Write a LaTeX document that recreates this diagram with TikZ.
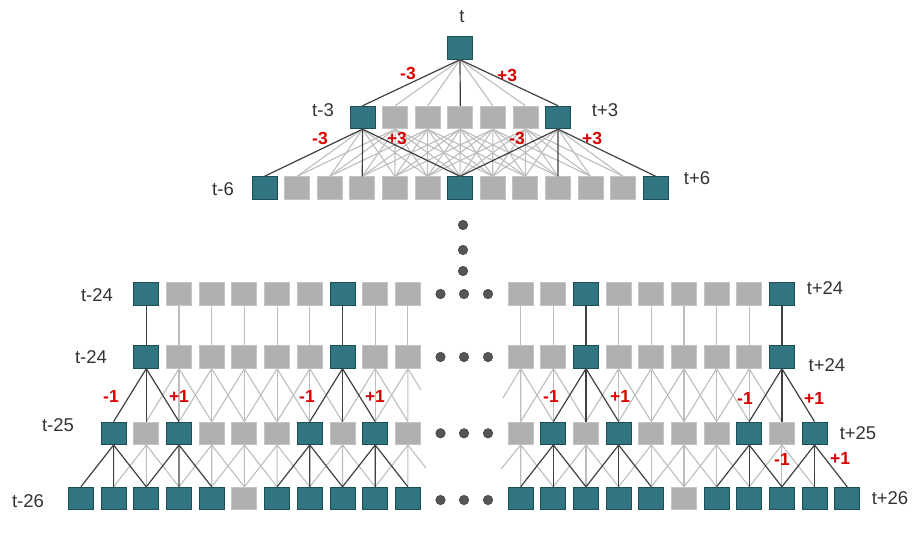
\documentclass[tikz,border=0pt]{standalone}
\usepackage{fontspec}
\setmainfont{Liberation Sans}
\usetikzlibrary{calc}
\definecolor{cellteal}{HTML}{307580}
\definecolor{celledge}{HTML}{1C4E56}
\definecolor{cellgray}{HTML}{B0B0B0}
\definecolor{linkdark}{HTML}{404040}
\definecolor{linkgray}{HTML}{BDBDBD}
\definecolor{offred}{HTML}{D90000}
\definecolor{labelgray}{HTML}{333333}
\definecolor{dotgray}{HTML}{555555}

\begin{document}
\begin{tikzpicture}[
  x=1pt, y=-1pt,
  tealbox/.style={rectangle, draw=celledge, fill=cellteal, line width=0.9pt, minimum width=25pt, minimum height=22.5pt, inner sep=0pt},
  graybox/.style={rectangle, draw=cellgray!75!white, fill=cellgray, line width=0.9pt, minimum width=25pt, minimum height=22.5pt, inner sep=0pt},
  link/.style={draw=linkgray, line width=1.1pt},
  strong/.style={draw=linkdark, line width=1.2pt},
  steplabel/.style={font=\fontsize{18.5}{21}\selectfont, text=labelgray},
  offset/.style={font=\fontsize{17.5}{20}\selectfont\bfseries, text=offred},
  dot/.style={circle, fill=dotgray, draw=dotgray!70!black, line width=0.5pt, minimum size=9.5pt, inner sep=0pt},
]
\useasboundingbox (0,0) rectangle (918,546);

% Top tree
\node[tealbox] (t) at (460,48) {};
\foreach \k in {0,6} \node[tealbox] (m\k) at (362.5+32.6*\k,117.5) {};
\foreach \k in {1,2,3,4,5} \node[graybox] (m\k) at (362.5+32.6*\k,117.5) {};
\foreach \j in {0,6,12} \node[tealbox] (b\j) at (264.5+32.6*\j,188) {};
\foreach \j in {1,2,3,4,5,7,8,9,10,11} \node[graybox] (b\j) at (264.5+32.6*\j,188) {};

\foreach \k in {1,2,4,5} \draw[link] (t.south) -- (m\k.north);
\foreach \k in {0,3,6} \draw[strong] (t.south) -- (m\k.north);

\foreach \k in {1,...,5} \foreach \d in {0,...,6} {
  \pgfmathtruncatemacro\j{\k+\d}
  \draw[link] (m\k.south) -- (b\j.north);
}
\foreach \j in {1,2,4,5} \draw[link] (m0.south) -- (b\j.north);
\foreach \j in {7,8,10,11} \draw[link] (m6.south) -- (b\j.north);
\foreach \j in {0,3,6} \draw[strong] (m0.south) -- (b\j.north);
\foreach \j in {6,9,12} \draw[strong] (m6.south) -- (b\j.north);

\node[steplabel] (lt) at (462,17) {t};
\node[steplabel] (ltm3) at (323,110) {t-3};
\node[steplabel] (ltp3) at (605,110) {t+3};
\node[steplabel] (ltm6) at (223,189) {t-6};
\node[steplabel] (ltp6) at (697,178) {t+6};
\node[offset] (o1) at (408,73) {-3};
\node[offset] (o2) at (507,75) {+3};
\node[offset] (o3) at (320,138) {-3};
\node[offset] (o4) at (397,138) {+3};
\node[offset] (o5) at (517,138) {-3};
\node[offset] (o6) at (592,138) {+3};

% Vertical dots
\node[dot] (v1) at (463,225) {};
\node[dot] (v2) at (463,250) {};
\node[dot] (v3) at (463,271) {};

% Left block
\foreach \i in {0,6} {
  \node[tealbox] (la\i) at (146.3+32.7*\i,294) {};
  \node[tealbox] (lb\i) at (146.3+32.7*\i,357) {};
}
\foreach \i in {1,2,3,4,5,7,8} {
  \node[graybox] (la\i) at (146.3+32.7*\i,294) {};
  \node[graybox] (lb\i) at (146.3+32.7*\i,357) {};
}
\foreach \i in {0,2,6,8} \node[tealbox] (lc\i) at (113.6+32.7*\i,433.3) {};
\foreach \i in {1,3,4,5,7,9} \node[graybox] (lc\i) at (113.6+32.7*\i,433.3) {};
\foreach \i in {0,1,2,3,4,6,7,8,9,10} \node[tealbox] (ld\i) at (80.9+32.7*\i,498.5) {};
\node[graybox] (ld5) at (80.9+32.7*5,498.5) {};
\coordinate (lbend) at (421,390);
\coordinate (lcend) at (426,468);

\foreach \i in {1,2,3,4,5,7,8} \draw[link] (la\i.south) -- (lb\i.north);
\foreach \i in {0,6} \draw[strong] (la\i.south) -- (lb\i.north);
\foreach \i in {1,2,3,4,5,7} \foreach \d in {0,1,2} {
  \pgfmathtruncatemacro\j{\i+\d}
  \draw[link] (lb\i.south) -- (lc\j.north);
}
\draw[link] (lc8.north) -- (lb8.south) -- (lc9.north);
\draw[link] (lb8.south) -- (lbend);
\foreach \i in {1,3,4,5,7} \foreach \d in {0,1,2} {
  \pgfmathtruncatemacro\j{\i+\d}
  \draw[link] (lc\i.south) -- (ld\j.north);
}
\draw[link] (ld9.north) -- (lc9.south) -- (ld10.north);
\draw[link] (lc9.south) -- (lcend);
\foreach \i in {0,6} \foreach \d in {0,1,2} {
  \pgfmathtruncatemacro\j{\i+\d}
  \draw[strong] (lb\i.south) -- (lc\j.north);
}
\foreach \i in {0,2,6,8} \foreach \d in {0,1,2} {
  \pgfmathtruncatemacro\j{\i+\d}
  \draw[strong] (lc\i.south) -- (ld\j.north);
}

% Right block
\foreach \i in {2,8} {
  \node[tealbox] (ra\i) at (520.7+32.65*\i,294) {};
  \node[tealbox] (rb\i) at (520.7+32.65*\i,357) {};
}
\foreach \i in {0,1,3,4,5,6,7} {
  \node[graybox] (ra\i) at (520.7+32.65*\i,294) {};
  \node[graybox] (rb\i) at (520.7+32.65*\i,357) {};
}
\foreach \i in {1,3,7,9} \node[tealbox] (rc\i) at (520.7+32.65*\i,433.3) {};
\foreach \i in {0,2,4,5,6,8} \node[graybox] (rc\i) at (520.7+32.65*\i,433.3) {};
\foreach \i in {0,1,2,3,4,6,7,8,9,10} \node[tealbox] (rd\i) at (520.7+32.65*\i,498.5) {};
\node[graybox] (rd5) at (520.7+32.65*5,498.5) {};
\coordinate (rbend) at (503,398);
\coordinate (rcend) at (501,469);

\foreach \i in {0,1,3,4,5,6,7} \draw[link] (ra\i.south) -- (rb\i.north);
\foreach \i in {2,8} \draw[strong] (ra\i.south) -- (rb\i.north);
\draw[link] (rc0.north) -- (rb0.south) -- (rc1.north);
\draw[link] (rb0.south) -- (rbend);
\foreach \i in {1,3,4,5,6,7} \foreach \d in {-1,0,1} {
  \pgfmathtruncatemacro\j{\i+\d}
  \draw[link] (rb\i.south) -- (rc\j.north);
}
\draw[link] (rd0.north) -- (rc0.south) -- (rd1.north);
\draw[link] (rc0.south) -- (rcend);
\foreach \i in {2,4,5,6,8} \foreach \d in {-1,0,1} {
  \pgfmathtruncatemacro\j{\i+\d}
  \draw[link] (rc\i.south) -- (rd\j.north);
}
\foreach \i in {2,8} \foreach \d in {-1,0,1} {
  \pgfmathtruncatemacro\j{\i+\d}
  \draw[strong] (rb\i.south) -- (rc\j.north);
}
\foreach \i in {1,3,7,9} \foreach \d in {-1,0,1} {
  \pgfmathtruncatemacro\j{\i+\d}
  \draw[strong] (rc\i.south) -- (rd\j.north);
}

% Horizontal dots
\foreach \y [count=\r] in {294,357,433.3,500} {
  \node[dot] (h\r a) at (440.5,\y) {};
  \node[dot] (h\r b) at (464,\y) {};
  \node[dot] (h\r c) at (488,\y) {};
}

% Row labels
\node[steplabel] (lm24a) at (97,295) {t-24};
\node[steplabel] (lm24b) at (91,357) {t-24};
\node[steplabel] (lm25) at (58,425) {t-25};
\node[steplabel] (lm26) at (28,501) {t-26};
\node[steplabel] (lp24a) at (825,288) {t+24};
\node[steplabel] (lp24b) at (827,365) {t+24};
\node[steplabel] (lp25) at (858,433) {t+25};
\node[steplabel] (lp26) at (890,498) {t+26};

% Offsets
\node[offset] (q1) at (111,396) {-1};
\node[offset] (q2) at (179,396) {+1};
\node[offset] (q3) at (307,396) {-1};
\node[offset] (q4) at (375,396) {+1};
\node[offset] (q5) at (551,396) {-1};
\node[offset] (q6) at (620,396) {+1};
\node[offset] (q7) at (745,398) {-1};
\node[offset] (q8) at (814,398) {+1};
\node[offset] (q9) at (782,459) {-1};
\node[offset] (q10) at (840,458) {+1};

\end{tikzpicture}
\end{document}
